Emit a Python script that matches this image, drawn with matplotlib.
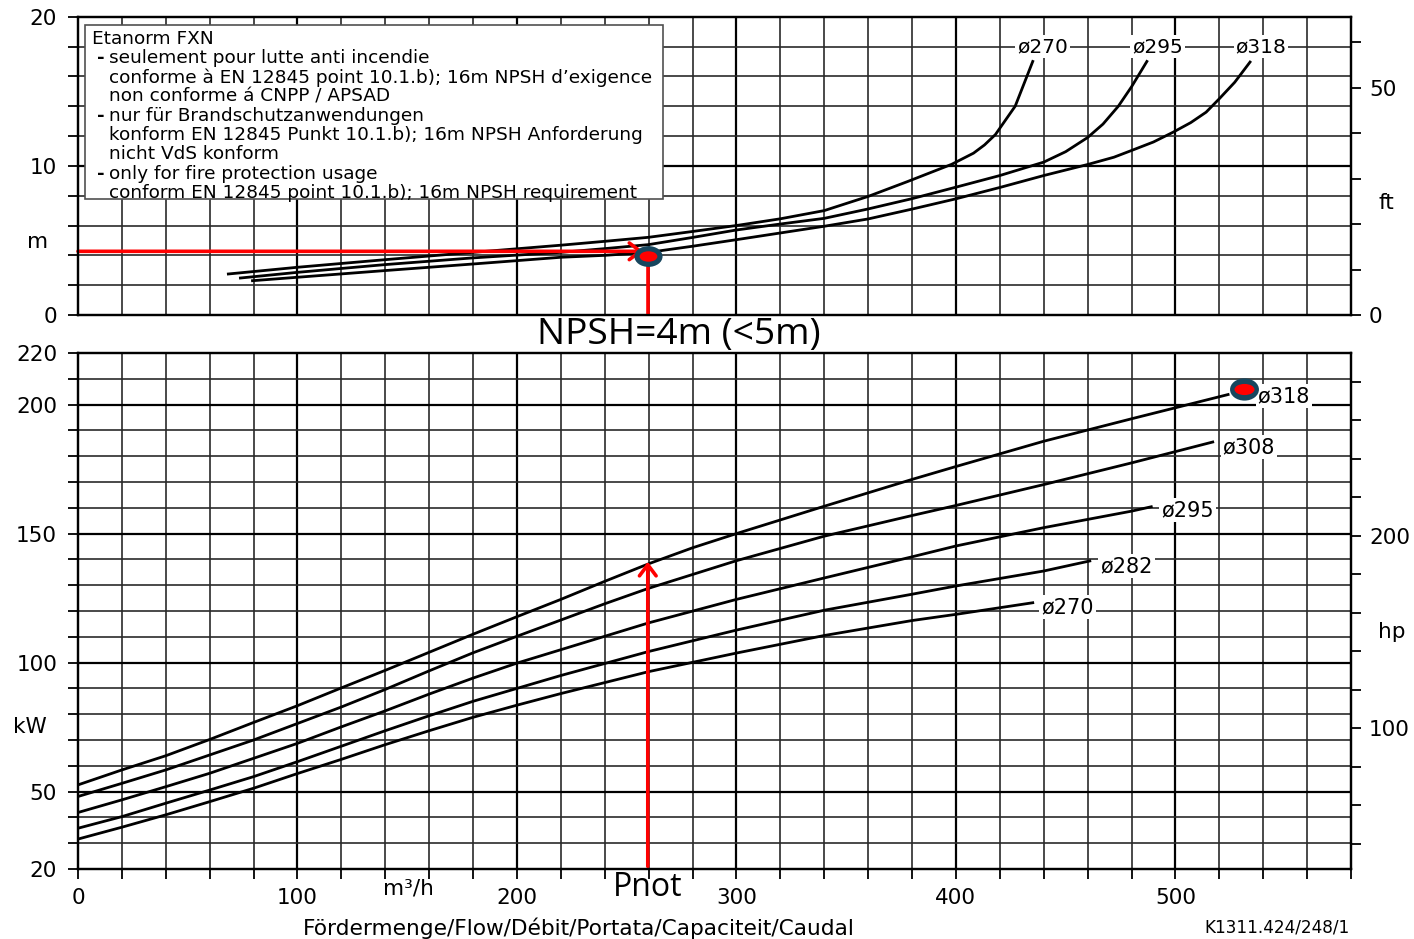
import numpy as np
import matplotlib.pyplot as plt
from matplotlib.markers import MarkerStyle
from matplotlib.transforms import Affine2D
from matplotlib.ticker import FuncFormatter
from matplotlib.patches import Rectangle

W, H = 1414, 939

# NPSH curves: flow (m3/h) / NPSH (m)
npsh270_q = [68.5, 100, 140, 180, 220, 240, 260, 280, 300, 320, 340, 360, 378, 398, 408, 413, 418, 427, 435]
npsh270_m = [2.75, 3.2, 3.71, 4.2, 4.68, 4.94, 5.21, 5.6, 6.0, 6.45, 7.0, 7.95, 8.95, 10.1, 10.85, 11.4, 12.1, 14.0, 17.0]
npsh295_q = [74, 100, 140, 180, 220, 240, 260, 280, 300, 320, 340, 360, 380, 400, 420, 440, 450, 460, 467, 474, 480, 487]
npsh295_m = [2.48, 2.86, 3.38, 3.83, 4.2, 4.45, 4.72, 5.2, 5.7, 6.1, 6.48, 7.11, 7.8, 8.57, 9.35, 10.25, 10.95, 11.9, 12.8, 14.0, 15.3, 17.0]
npsh318_q = [79.5, 100, 140, 180, 220, 240, 260, 280, 300, 320, 340, 360, 380, 400, 420, 440, 460, 472, 480, 490, 499, 507, 514, 520, 527, 534]
npsh318_m = [2.3, 2.53, 2.98, 3.42, 3.87, 4.0, 4.2, 4.61, 5.05, 5.5, 5.95, 6.44, 7.1, 7.79, 8.55, 9.35, 10.09, 10.58, 11.03, 11.6, 12.26, 12.9, 13.6, 14.5, 15.6, 16.96]

# power curves: flow (m3/h) / power (kW)
p318_q = [0, 20, 40, 60, 80, 100, 120, 140, 160, 180, 200, 220, 240, 260, 280, 300, 340, 380, 400, 440, 480, 524]
p318_kw = [52.6, 58.4, 63.9, 70.2, 76.8, 83.3, 90.2, 97, 104, 111, 117.8, 124.5, 131.5, 138.3, 144.5, 150, 160.6, 171, 176, 185.8, 194.5, 203.9]
p308_q = [0, 20, 40, 60, 80, 100, 120, 140, 160, 180, 200, 220, 240, 260, 300, 340, 380, 400, 440, 480, 517]
p308_kw = [48.1, 53.2, 58.4, 64.2, 70, 76.4, 82.8, 89.6, 96.8, 103.8, 110.2, 116.5, 122.8, 128.8, 139.5, 149, 157, 160.9, 169, 177.4, 185.5]
p295_q = [0, 20, 40, 60, 80, 100, 120, 140, 160, 180, 200, 220, 260, 300, 340, 380, 400, 440, 480, 489]
p295_kw = [41.9, 46.8, 51.9, 57.1, 62.9, 68.7, 75.1, 81.3, 87.8, 94.0, 99.8, 105.0, 115.4, 124.5, 132.8, 141, 145.2, 152.3, 158.7, 160.4]
p282_q = [0, 20, 40, 60, 80, 100, 120, 140, 160, 180, 200, 220, 260, 300, 340, 380, 400, 440, 461]
p282_kw = [35.8, 40.3, 45.5, 50.6, 55.8, 61.6, 67.6, 73.6, 79.4, 85.0, 90.0, 95.0, 104.3, 112.6, 120.3, 126.5, 129.7, 135.5, 139.4]
p270_q = [0, 20, 40, 60, 80, 100, 120, 140, 160, 180, 200, 220, 260, 300, 340, 380, 400, 435]
p270_kw = [31.6, 36.2, 41, 46.1, 51.3, 57.0, 62.5, 68.2, 73.6, 78.8, 83.5, 88.0, 96.5, 103.7, 110.5, 116.3, 118.7, 123.2]

# curve labels
npsh_labels = ['ø270', 'ø295', 'ø318']
npsh_label_q = [439.5, 491.8, 539]
npsh_label_m = [18, 18, 18]
power_labels = ['ø318', 'ø308', 'ø295', 'ø282', 'ø270']
power_label_q = [537.5, 521.5, 493.5, 465.7, 438.8]
power_label_kw = [203.3, 183.6, 159.1, 137.4, 121.4]

# operating point markers
op_q = 259.6
op_npsh = 3.98
op_npsh_line = 4.27
op_kw = 139.1
max_q = 531.4
max_kw = 205.9

legend_lines = [
    ('', 'Etanorm FXN'),
    ('-', 'seulement pour lutte anti incendie'),
    ('', 'conforme à EN 12845 point 10.1.b); 16m NPSH d’exigence'),
    ('', 'non conforme á CNPP / APSAD'),
    ('-', 'nur für Brandschutzanwendungen'),
    ('', 'konform EN 12845 Punkt 10.1.b); 16m NPSH Anforderung'),
    ('', 'nicht VdS konform'),
    ('-', 'only for fire protection usage'),
    ('', 'conform EN 12845 point 10.1.b); 16m NPSH requirement'),
]

q_grid = list(range(0, 581, 20))
m_grid = list(range(0, 21, 2))
kw_grid = list(range(20, 221, 10))

fig = plt.figure(figsize=(W / 100, H / 100), dpi=100)
L, R = 78 / W, 1351 / W
ax1 = fig.add_axes([L, 1 - 315 / H, R - L, (315 - 16.7) / H])
ax2 = fig.add_axes([L, 1 - 869 / H, R - L, (869 - 353) / H])

TS = 15.5


def grid(ax, xs, ys, xbold, ybold):
    for v in xs:
        b = v in xbold
        ax.axvline(v, color='black' if b else '#2a2a2a', lw=1.6 if b else 1.2, zorder=1)
    for v in ys:
        b = v in ybold
        ax.axhline(v, color='black' if b else '#2a2a2a', lw=1.6 if b else 1.2, zorder=1)


def labeled(vals):
    return FuncFormatter(lambda v, p: f'{v:g}' if round(v) in vals else '')


for ax in (ax1, ax2):
    ax.set_xlim(0, 580)
    for s in ax.spines.values():
        s.set_linewidth(1.6)

# ---- NPSH chart
ax1.set_ylim(0, 20)
grid(ax1, q_grid, m_grid, [100, 200, 300, 400, 500], [10])
ax1.set_xticks(q_grid)
ax1.tick_params(axis='x', length=0, labelbottom=False)
ax1.set_yticks(m_grid)
ax1.yaxis.set_major_formatter(labeled([0, 10, 20]))
ax1.tick_params(axis='y', length=7, width=1.3, pad=8, labelsize=TS)

for q, m in [(npsh270_q, npsh270_m), (npsh295_q, npsh295_m), (npsh318_q, npsh318_m)]:
    ax1.plot(q, m, color='black', lw=2.0, zorder=3)
for t, q, m in zip(npsh_labels, npsh_label_q, npsh_label_m):
    ax1.text(q, m, t, ha='center', va='center', fontsize=14.5, zorder=4,
             bbox=dict(facecolor='white', edgecolor='none', pad=1.5))

ax1.add_patch(Rectangle((3.1, 7.79), 263.3, 11.67, facecolor='white',
                        edgecolor='#505050', lw=1.2, zorder=5))
ys = [36.7, 56, 75.3, 94.7, 113.7, 132.7, 152, 171.7, 190.7]
for (b, t), y in zip(legend_lines, ys):
    if b:
        fig.text(97 / W, 1 - y / H, b, fontsize=13.3, fontweight='bold',
                 va='center_baseline', ha='left')
    x = 91.5 if t == 'Etanorm FXN' else 109
    fig.text(x / W, 1 - y / H, t, fontsize=13.3, va='center_baseline', ha='left')

ax1.annotate('', xy=(op_q - 2, op_npsh_line), xytext=(0, op_npsh_line),
             arrowprops=dict(arrowstyle='->,head_length=0.4,head_width=0.3', color='red',
                             lw=2.6, mutation_scale=20, shrinkA=0, shrinkB=0), zorder=6)
ax1.plot([op_q, op_q], [0, op_npsh], color='red', lw=2.6, zorder=6, solid_capstyle='butt')
ax1.plot([op_q], [op_npsh], ls='none', marker=MarkerStyle('o', transform=Affine2D().scale(1.35, 1)),
         ms=15, mfc='#17465e', mec='none', zorder=7, clip_on=False)
ax1.plot([op_q], [op_npsh], ls='none', marker=MarkerStyle('o', transform=Affine2D().scale(1.7, 1)),
         ms=7.5, mfc='#ff0000', mec='none', zorder=8, clip_on=False)

ax1t = ax1.twinx()
ax1t.set_ylim(0, 20 / 0.3048)
ax1t.set_yticks(range(0, 61, 10))
ax1t.yaxis.set_major_formatter(labeled([0, 50]))
ax1t.tick_params(axis='y', length=7, width=1.3, pad=6, labelsize=TS)
for s in ax1t.spines.values():
    s.set_linewidth(1.6)

# ---- power chart
ax2.set_ylim(20, 220)
grid(ax2, q_grid, kw_grid, [100, 200, 300, 400, 500], [50, 100, 150, 200])
ax2.set_xticks(q_grid)
ax2.xaxis.set_major_formatter(labeled([0, 100, 200, 300, 400, 500]))
ax2.tick_params(axis='x', length=7, width=1.3, pad=7, labelsize=TS)
ax2.set_yticks(kw_grid)
ax2.yaxis.set_major_formatter(labeled([20, 50, 100, 150, 200, 220]))
ax2.tick_params(axis='y', length=7, width=1.3, pad=8, labelsize=TS)

for q, p in [(p318_q, p318_kw), (p308_q, p308_kw), (p295_q, p295_kw), (p282_q, p282_kw), (p270_q, p270_kw)]:
    ax2.plot(q, p, color='black', lw=2.0, zorder=3)
for t, q, p in zip(power_labels, power_label_q, power_label_kw):
    ax2.text(q, p, t, ha='left', va='center', fontsize=15, zorder=4,
             bbox=dict(facecolor='white', edgecolor='none', pad=1.5))

ax2.annotate('', xy=(op_q, op_kw), xytext=(op_q, 21),
             arrowprops=dict(arrowstyle='->,head_length=0.4,head_width=0.3', color='red',
                             lw=2.6, mutation_scale=20, shrinkA=0, shrinkB=0), zorder=6)
ax2.plot([max_q], [max_kw], ls='none', marker=MarkerStyle('o', transform=Affine2D().scale(1.3, 1)),
         ms=16, mfc='#17465e', mec='none', zorder=7, clip_on=False)
ax2.plot([max_q], [max_kw], ls='none', marker=MarkerStyle('o', transform=Affine2D().scale(1.8, 1)),
         ms=8, mfc='#ff0000', mec='none', zorder=8, clip_on=False)

ax2t = ax2.twinx()
ax2t.set_ylim(20 / 0.7457, 220 / 0.7457)
ax2t.set_yticks(range(40, 281, 20))
ax2t.yaxis.set_major_formatter(labeled([100, 200]))
ax2t.tick_params(axis='y', length=7, width=1.3, pad=6, labelsize=TS)
for s in ax2t.spines.values():
    s.set_linewidth(1.6)


# ---- free texts
def ftext(x, y, s, **kw):
    fig.text(x / W, 1 - y / H, s, ha='center', va='center', **kw)


ftext(38, 242, 'm', fontsize=15.5)
ftext(30, 727, 'kW', fontsize=15.5)
ftext(1386, 203, 'ft', fontsize=15.5)
ftext(1392, 632, 'hp', fontsize=15.5)
ftext(408, 888, 'm³/h', fontsize=15.5)
ftext(579, 928, 'Fördermenge/Flow/Débit/Portata/Capaciteit/Caudal', fontsize=15.6)
ftext(1277, 927, 'K1311.424/248/1', fontsize=12.2)
ftext(679, 335, 'NPSH=4m (<5m)', fontsize=26.8, family='Open Sans')
ftext(648, 887, 'Pnot', fontsize=23, family='Open Sans')

fig.savefig('out.png', dpi=100)
